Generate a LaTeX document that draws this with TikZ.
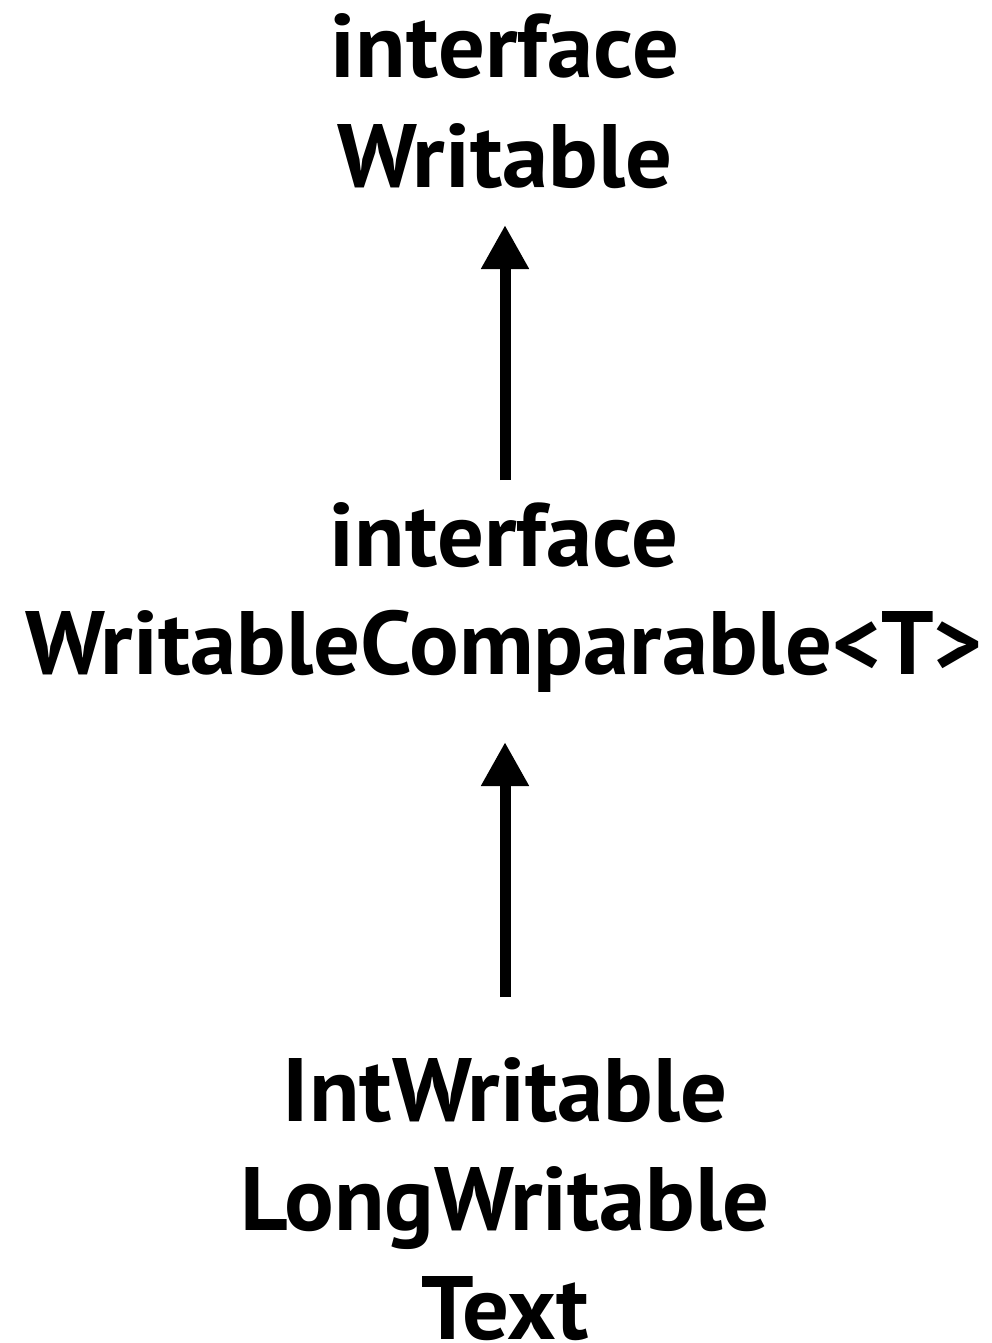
\documentclass[tikz,border=0pt]{standalone}
\usepackage{fontspec}
\setmainfont[FakeStretch=1.03]{PT Sans}
\usetikzlibrary{arrows.meta}
\begin{document}
\begin{tikzpicture}[x=1pt,y=1pt,
  label text/.style={font=\bfseries\fontsize{90}{110}\selectfont, align=center, inner sep=0pt, text depth=0pt, anchor=south},
  arr/.style={line width=11pt, -{Triangle[width=45pt,length=44pt]}}]
\useasboundingbox (0,0) rectangle (992,-1343);
\node[label text] (top) at (505,-188) {interface\\Writable};
\node[label text, font=\bfseries\fontsize{90}{108}\selectfont] (mid) at (504,-675) {interface\\WritableComparable<T>};
\node[label text, font=\bfseries\fontsize{90}{109}\selectfont] (bot) at (505,-1340) {IntWritable\\LongWritable\\Text};
\draw[arr] ([yshift=195pt]mid.south -| top.south) -- ([yshift=-37pt]top.south);
\draw[arr] ([yshift=343pt]bot.south) -- ([yshift=-67pt]mid.south -| bot.south);
\end{tikzpicture}
\end{document}
